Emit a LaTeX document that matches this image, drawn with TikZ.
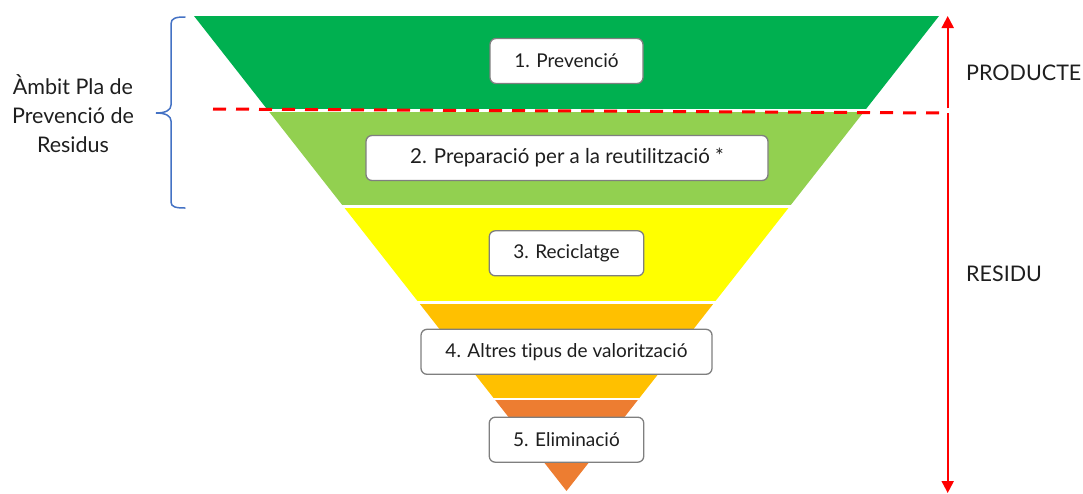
\documentclass[tikz,border=0pt]{standalone}
\usepackage{fontspec}
\setmainfont{Lato}[Ligatures={NoCommon}]
\usetikzlibrary{arrows.meta}
\definecolor{bandA}{HTML}{00B050}
\definecolor{bandB}{HTML}{92D050}
\definecolor{bandC}{HTML}{FFFF00}
\definecolor{bandD}{HTML}{FFC000}
\definecolor{bandE}{HTML}{ED7D31}
\definecolor{boxgray}{HTML}{7F7F7F}
\definecolor{txt}{HTML}{1E1E1E}
\definecolor{bracecol}{HTML}{4472C4}
\definecolor{redline}{HTML}{FF0000}
\begin{document}
\begin{tikzpicture}[x=1pt,y=-1pt,
  levelbox/.style={draw=boxgray, fill=white, line width=1.3pt, rounded corners=6pt,
    inner sep=0pt, text=txt, font=\fontsize{19}{22}\selectfont, minimum height=45pt},
  sidelabel/.style={anchor=west, inner sep=0pt, text=txt, font=\fontsize{21.5}{25}\selectfont},
  redarrow/.style={draw=redline, line width=2pt, -{Triangle[width=12pt,length=12pt]}},
]
\useasboundingbox (0,0) rectangle (1083,493);
% funnel bands
\begin{scope}
  \clip (194,16) -- (939,16) -- (566.5,491) -- cycle;
  \fill[bandA] (150,16) rectangle (1000,108.5);
  \fill[bandB] (150,111.5) rectangle (1000,205);
  \fill[bandC] (150,207.5) rectangle (1000,301);
  \fill[bandD] (150,303.5) rectangle (1000,397.5);
  \fill[bandE] (150,400) rectangle (1000,493);
\end{scope}
% level boxes
\node[levelbox, minimum width=153pt] (l1) at (566.5,61) {1. Prevenció};
\node[levelbox, minimum width=402pt, font=\fontsize{20.5}{24}\selectfont] (l2) at (567,158) {2. Preparació per a la reutilització *};
\node[levelbox, minimum width=154.5pt] (l3) at (566.5,253.3) {3. Reciclatge};
\node[levelbox, minimum width=291pt] (l4) at (566.5,351.8) {4. Altres tipus de valorització};
\node[levelbox, minimum width=154.5pt] (l5) at (566.5,439.7) {5. Eliminació};
% dashed boundary and arrows
\coordinate (dashL) at (213,109);
\coordinate (dashR) at (947.7,113);
\coordinate (upB) at (947.7,108.3);
\coordinate (upT) at (947.7,16);
\coordinate (downB) at (947.7,493);
\draw[redline, line width=3pt, dash pattern=on 13pt off 10pt] (dashL) -- (dashR);
\draw[redarrow] (upB) -- (upT);
\draw[redarrow] (dashR) -- (downB);
% side labels
\node[sidelabel] (prod) at (966,72.5) {PRODUCTE};
\node[sidelabel] (resi) at (966,273.5) {RESIDU};
% brace
\draw[bracecol, line width=1.5pt, line cap=round]
  (185,17) .. controls (176,17) and (171,18) .. (171,24) -- (171,105)
  .. controls (171,110) and (166,113) .. (156,113)
  .. controls (166,113) and (171,116) .. (171,121) -- (171,202)
  .. controls (171,207) and (176,208) .. (185,208);
\node[align=center, text=txt, inner sep=0pt, font=\fontsize{21.5}{29}\selectfont] (ambit) at (73,114) {Àmbit Pla de\\Prevenció de\\Residus};
\end{tikzpicture}
\end{document}
